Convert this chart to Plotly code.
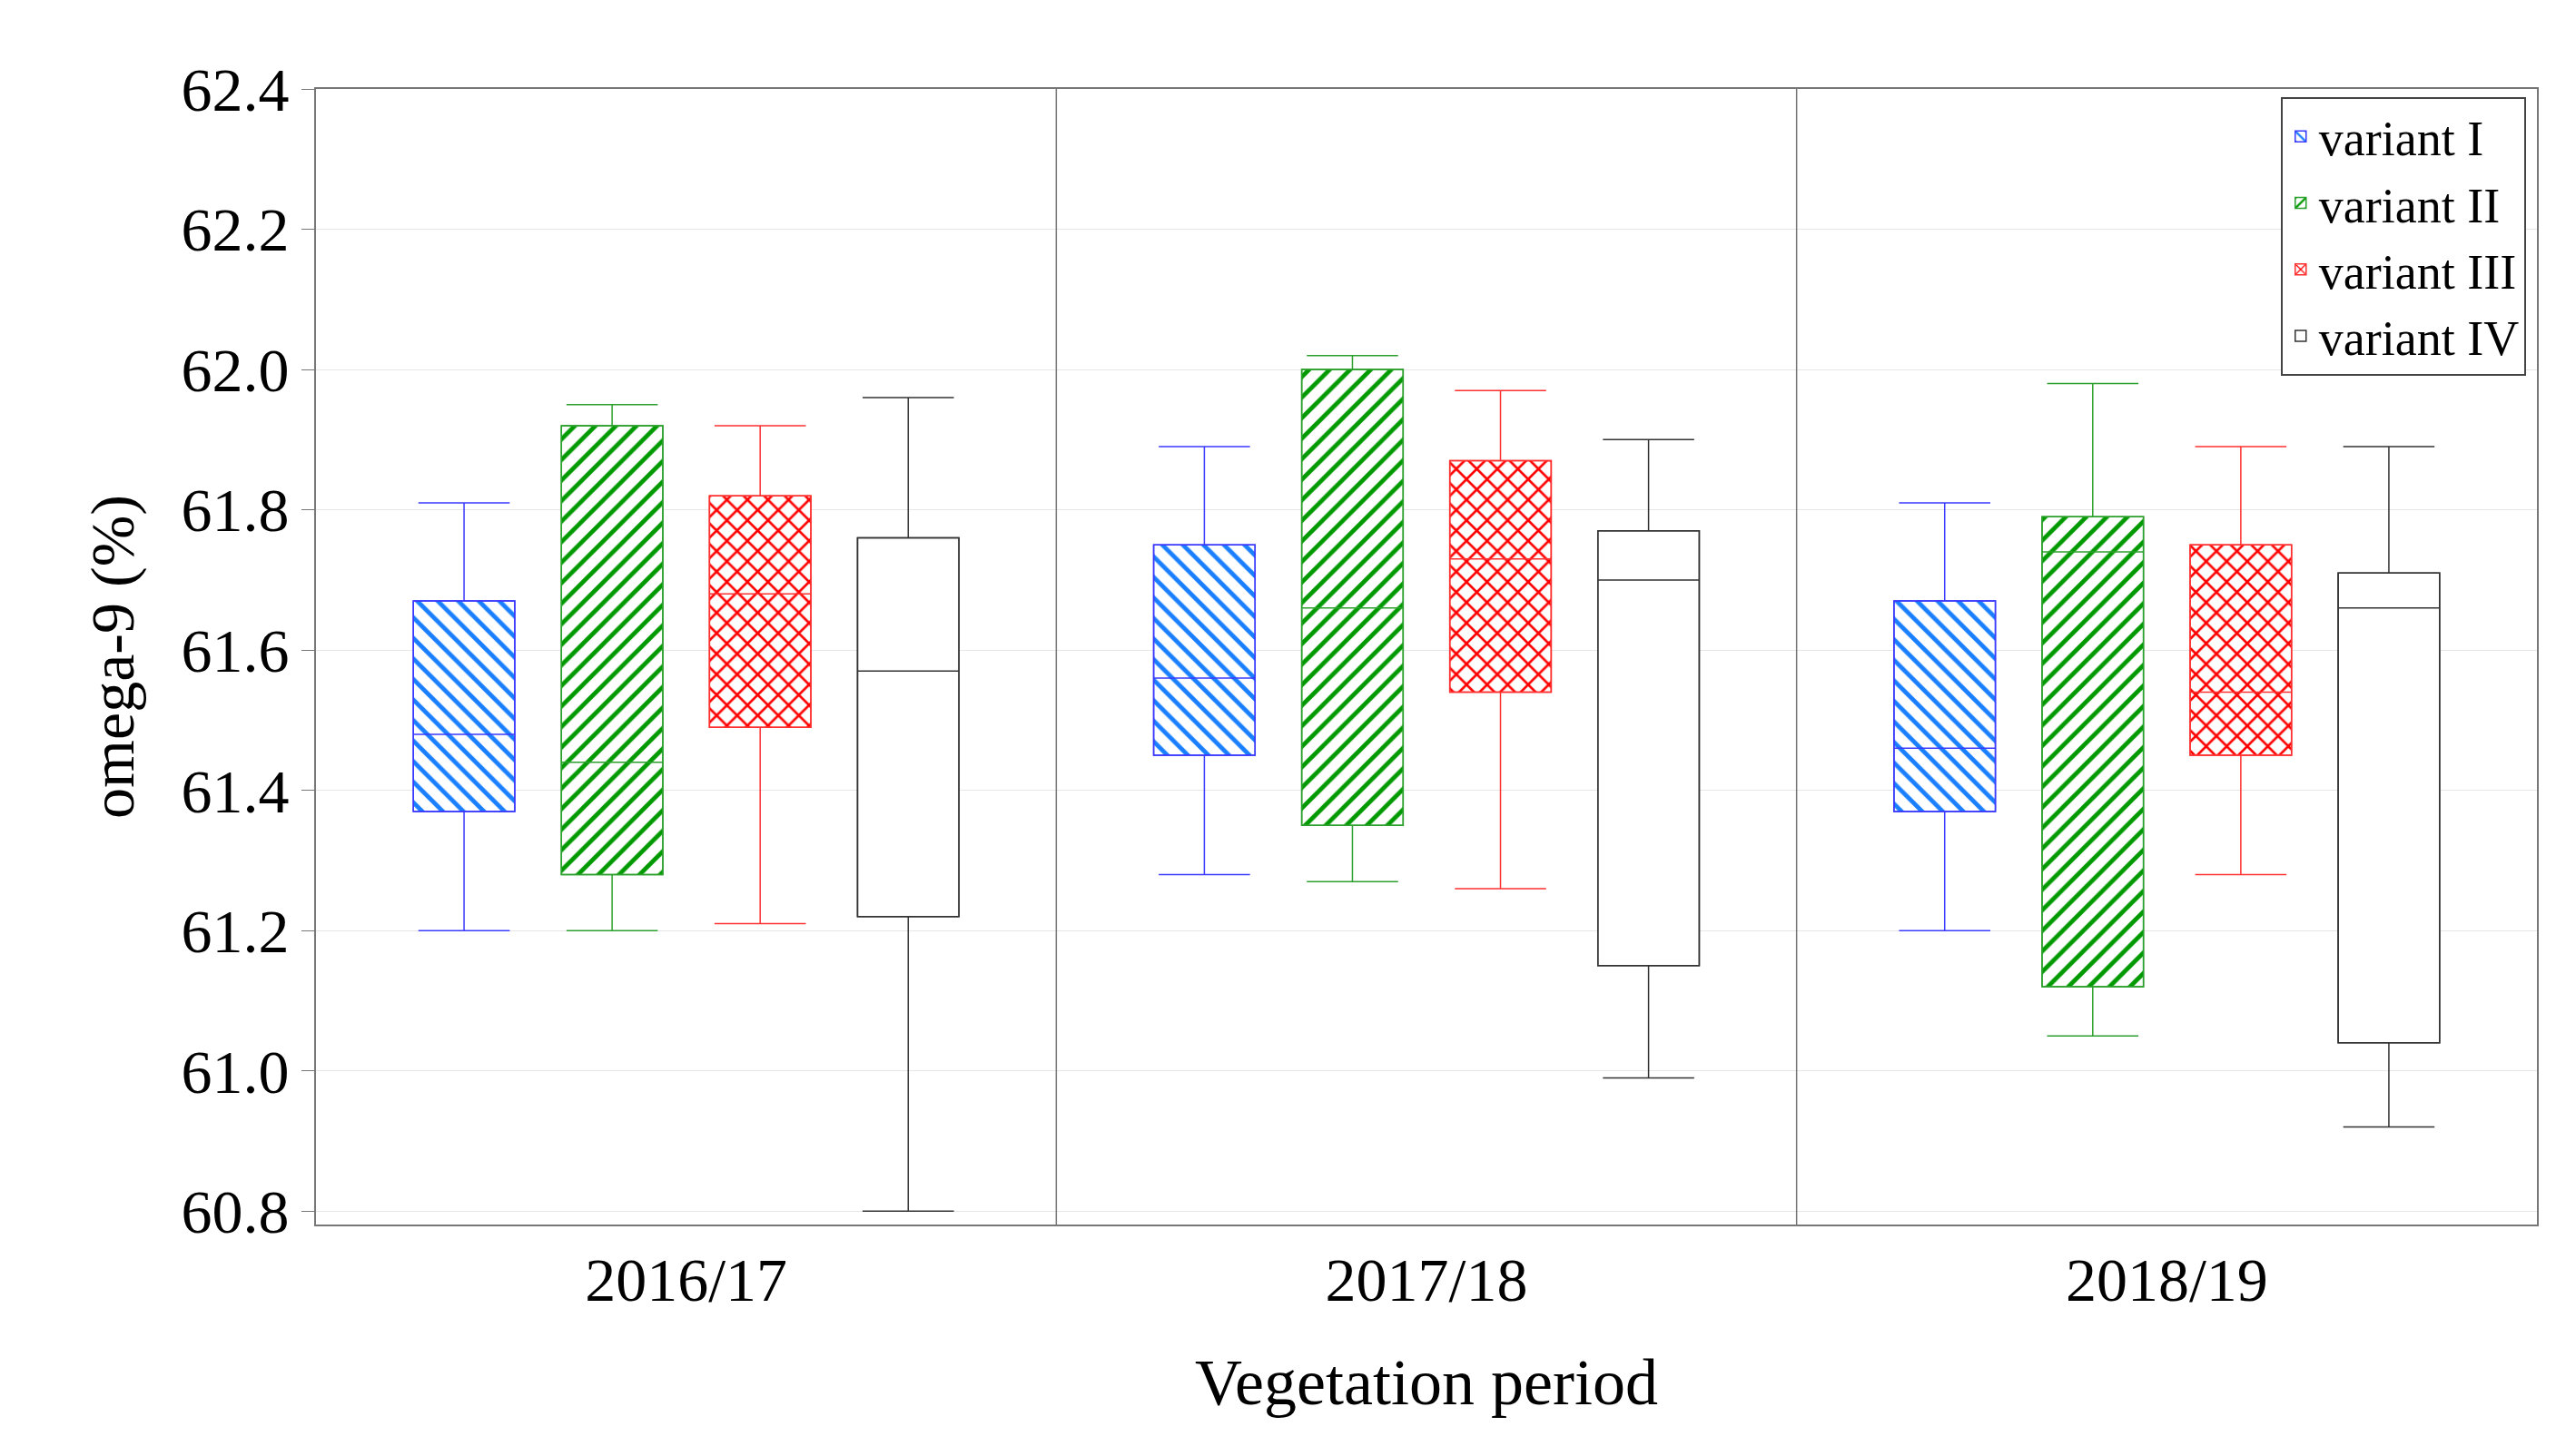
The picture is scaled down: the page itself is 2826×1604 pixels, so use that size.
import plotly.graph_objects as go

periods = ["2016/17", "2017/18", "2018/19"]
variants = ["variant I", "variant II", "variant III", "variant IV"]
# per variant: lists over periods
lower = [[61.20, 61.28, 61.20], [61.20, 61.27, 61.05], [61.21, 61.26, 61.28], [60.80, 60.99, 60.92]]
q1 = [[61.37, 61.45, 61.37], [61.28, 61.35, 61.12], [61.49, 61.54, 61.45], [61.22, 61.15, 61.04]]
median = [[61.48, 61.56, 61.46], [61.44, 61.66, 61.74], [61.68, 61.73, 61.54], [61.57, 61.70, 61.66]]
q3 = [[61.67, 61.75, 61.67], [61.92, 62.00, 61.79], [61.82, 61.87, 61.75], [61.76, 61.77, 61.71]]
upper = [[61.81, 61.89, 61.81], [61.95, 62.02, 61.98], [61.92, 61.97, 61.89], [61.96, 61.90, 61.89]]

line_colors = ["#3a3aff", "#2ca02c", "#ff3030", "#333333"]
pat_colors = ["#1a7fff", "#009900", "#ff0000", "#000000"]
shapes_pat = ["\\", "/", "x", ""]
offsets = [-0.30, -0.10, 0.10, 0.30]
width = 0.137

fig = go.Figure()
for i, v in enumerate(variants):
    xs = [p + 0.5 + offsets[i] for p in range(len(periods))]
    fig.add_trace(go.Bar(
        x=xs, y=[b - a for a, b in zip(q1[i], q3[i])], base=q1[i], width=width,
        name=v, marker=dict(color="white", line=dict(color=line_colors[i], width=1.5),
                            pattern=dict(shape=shapes_pat[i], fgcolor=pat_colors[i], fgopacity=1,
                                         bgcolor="white", size=16, solidity=0.3)),
    ))
    fig.add_trace(go.Box(
        x=xs, q1=q1[i], median=median[i], q3=q3[i], lowerfence=lower[i], upperfence=upper[i],
        width=width, whiskerwidth=0.9, fillcolor="rgba(0,0,0,0)",
        line=dict(color=line_colors[i], width=1.5), showlegend=False, hoverinfo="skip",
    ))

for xv in [1, 2]:
    fig.add_vline(x=xv, line=dict(color="#777777", width=1.5))

fig.update_layout(
    width=2826, height=1604, plot_bgcolor="white", paper_bgcolor="white",
    margin=dict(l=340, r=40, t=90, b=263),
    font=dict(family="Liberation Serif", size=68, color="black"),
    barmode="overlay", boxmode="overlay",
    legend=dict(x=0.995, y=0.993, xanchor="right", yanchor="top", bordercolor="#444",
                borderwidth=2, font=dict(size=54), bgcolor="white", tracegroupgap=0),
)
fig.update_xaxes(range=[0, 3], tickvals=[0.5, 1.5, 2.5], ticktext=periods,
                 title=dict(text="Vegetation period", font=dict(size=72), standoff=50),
                 showline=True, linecolor="#777", linewidth=2, mirror=True,
                 showgrid=False, ticks="", zeroline=False)
fig.update_yaxes(range=[60.781, 62.4], dtick=0.2, tickformat=".1f",
                 title=dict(text="omega-9 (%)", font=dict(size=68), standoff=30),
                 showline=True, linecolor="#777", linewidth=2, mirror=True,
                 showgrid=True, gridcolor="#e6e6e6", ticks="outside", ticklen=14,
                 tickcolor="#777", zeroline=False)
fig.write_html("out.html")
